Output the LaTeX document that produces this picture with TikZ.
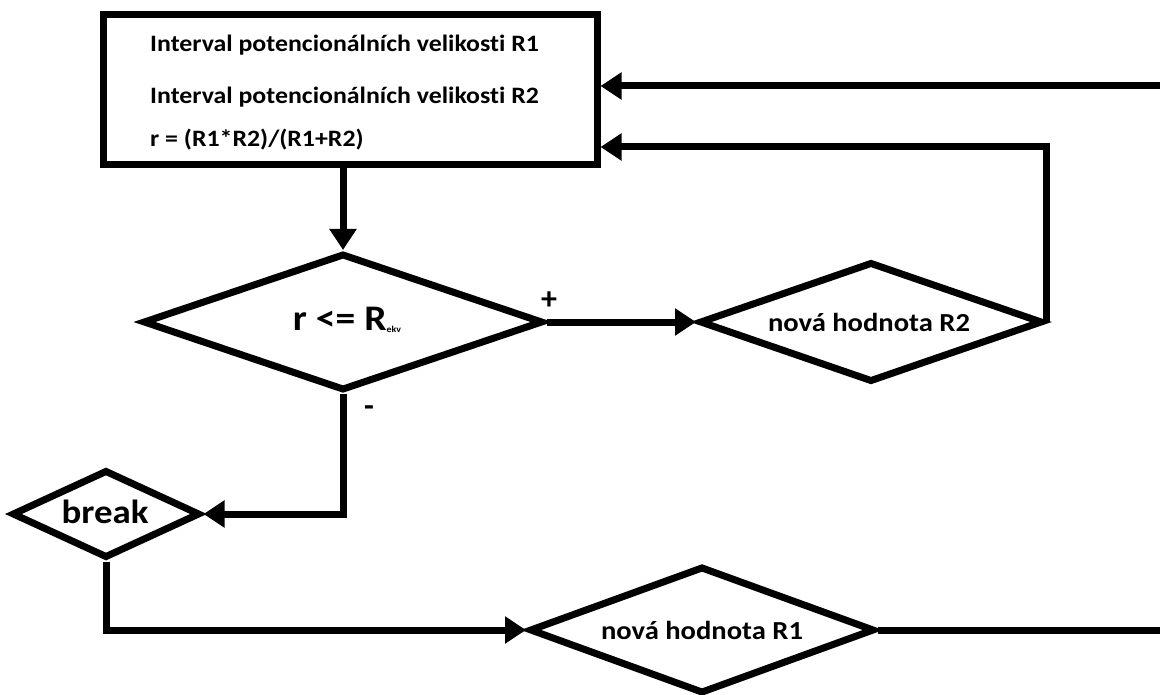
\documentclass[tikz,border=0pt]{standalone}
\usepackage{fontspec}
\setmainfont{Carlito}[Ligatures={NoCommon}]
\newfontfamily\widefont[FakeStretch=1.1,Ligatures={NoCommon}]{Carlito}
\usetikzlibrary{arrows.meta,shapes.geometric}
\tikzset{
  thick line/.style={line width=7pt},
  flow/.style={thick line,-{Triangle[length=21pt,width=26pt]}},
  plain/.style={thick line},
  dia/.style={shape=diamond,draw,thick line,inner sep=0pt,fill=white},
  boxtext/.style={font=\widefont\bfseries\fontsize{23.5}{26}\selectfont,anchor=west,inner sep=0pt},
  diatext/.style={font=\widefont\bfseries\fontsize{26}{30}\selectfont,inner sep=0pt},
  sign/.style={font=\bfseries\fontsize{32}{36}\selectfont,inner sep=0pt}
}
\begin{document}
\begin{tikzpicture}[x=1pt,y=-1pt]
\useasboundingbox (0,0) rectangle (1160,695);
% main box
\node[draw,thick line,minimum width=494pt,minimum height=150pt,inner sep=0pt] (box) at (350,90) {};
\node[boxtext] (t1) at (150,45) {Interval potencionálních velikosti R1};
\node[boxtext] (t2) at (150,97) {Interval potencionálních velikosti R2};
\node[boxtext] (t3) at (150,140) {r = (R1*R2)/(R1+R2)};
% decision
\node[dia,minimum width=400pt,minimum height=137pt] (d1) at (343,322) {};
\node[font=\widefont\bfseries\fontsize{36}{40}\selectfont,inner sep=0pt] (d1t) at (347,320) {r <= R\raisebox{-0.1ex}{\fontsize{9}{10}\selectfont ekv}};
% new R2
\node[dia,minimum width=343pt,minimum height=120pt] (d2) at (871,322) {};
\node[diatext] (d2t) at (869,322) {nová hodnota R2};
% break
\node[dia,minimum width=188pt,minimum height=88pt] (brk) at (106,514) {};
\node[font=\widefont\bfseries\fontsize{33.5}{38}\selectfont,inner sep=0pt] (brkt) at (105,512) {break};
% new R1
\node[dia,minimum width=345pt,minimum height=127pt] (d3) at (702,630) {};
\node[diatext] (d3t) at (702,630) {nová hodnota R1};
% labels
\node[sign] (plus) at (549,301) {+};
\node[sign] (minus) at (369,411) {-};
% connector ends
\coordinate (in1) at ([yshift=4pt]box.east);
\coordinate (in2) at ([yshift=-57pt]box.east);
\coordinate (rt) at (1160,86);
\coordinate (rb) at (1160,630);
% connectors
\draw[flow] (d1.north |- box.south) -- (d1.north);
\draw[flow] (d1.east) -- (d2.west);
\draw[flow] (d2.east) -- (d2.east |- in2) -- (in2);
\draw[flow] (rt) -- (in1);
\draw[flow] (d1.south) -- (d1.south |- brk.east) -- (brk.east);
\draw[flow] (brk.south) |- (d3.west);
\draw[plain] (d3.east) -- (rb);
\end{tikzpicture}
\end{document}
